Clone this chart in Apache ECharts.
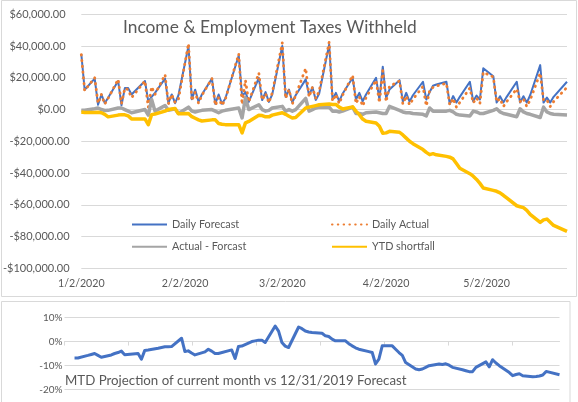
<!DOCTYPE html>
<html><head><meta charset="utf-8">
<script src="https://cdn.jsdelivr.net/npm/echarts@6/dist/echarts.min.js"></script>
<style>html,body{margin:0;padding:0;background:#fff}#c{width:578px;height:402px}</style>
</head><body><div id="c"></div>
<script>
// ---------- DATA ----------
const dates = ['2020-01-02','2020-01-03','2020-01-06','2020-01-07','2020-01-08','2020-01-09','2020-01-10','2020-01-13','2020-01-14','2020-01-15','2020-01-16','2020-01-17','2020-01-21','2020-01-22','2020-01-23','2020-01-24','2020-01-27','2020-01-28','2020-01-29','2020-01-30','2020-01-31',
'2020-02-03','2020-02-04','2020-02-05','2020-02-06','2020-02-07','2020-02-10','2020-02-11','2020-02-12','2020-02-13','2020-02-14','2020-02-18','2020-02-19','2020-02-20','2020-02-21','2020-02-24','2020-02-25','2020-02-26','2020-02-27','2020-02-28',
'2020-03-02','2020-03-03','2020-03-04','2020-03-05','2020-03-06','2020-03-09','2020-03-10','2020-03-11','2020-03-12','2020-03-13','2020-03-16','2020-03-17','2020-03-18','2020-03-19','2020-03-20','2020-03-23','2020-03-24','2020-03-25','2020-03-26','2020-03-27','2020-03-30','2020-03-31',
'2020-04-01','2020-04-02','2020-04-03','2020-04-06','2020-04-07','2020-04-08','2020-04-09','2020-04-10','2020-04-13','2020-04-14','2020-04-15','2020-04-16','2020-04-17','2020-04-20','2020-04-21','2020-04-22','2020-04-23','2020-04-24','2020-04-27','2020-04-28','2020-04-29','2020-04-30',
'2020-05-01','2020-05-04','2020-05-05','2020-05-06','2020-05-07','2020-05-08','2020-05-11','2020-05-12','2020-05-13','2020-05-14','2020-05-15','2020-05-18','2020-05-19','2020-05-20','2020-05-21','2020-05-22','2020-05-26'];

const dailyForecast = [35000,12500,19500,3000,9500,4000,7500,18000,2700,13500,13500,9500,18000,5000,8000,10500,19500,4000,9500,4000,9000,
40000,6500,12500,5000,9500,19500,3600,9500,3600,7000,34000,8500,11000,4800,20000,6000,11000,4800,9500,
40000,8000,12600,4500,9000,19000,9000,14000,6000,10000,41000,6300,10500,5200,10000,20000,6300,10500,5200,9500,20000,6300,
27000,7400,12600,18500,5000,10500,5000,9000,17500,6300,11000,15000,15800,17500,3500,8500,4400,8000,17500,5200,8800,6300,
26000,21000,4400,8400,4400,8000,17500,4400,8400,4400,9000,28000,4400,7500,4400,8000,17500];

const dailyActual = [34600,12000,20000,4000,9500,3400,7000,19000,3700,13500,12500,7500,18000,1500,14300,9500,22000,3500,9500,4500,6500,
41500,5500,11000,4000,9000,19500,2600,7500,2600,6500,35000,3200,18400,4800,23000,6000,10000,4300,10500,
42000,7000,12600,3500,9000,26000,8000,14000,7000,11500,42500,5300,9500,3700,9000,21500,3800,8000,2200,7500,18500,4300,
24500,4900,14600,18000,3500,8500,3000,6500,14500,2300,12000,14000,14800,16500,3000,7000,1400,4500,13500,4200,7300,3800,
23500,20500,4900,6900,1900,5000,13000,4900,6900,1900,6000,23000,5900,6000,1900,5000,14000];

const actualMinusForecast = [-400,-500,500,1000,0,-600,-500,1000,1000,0,-1000,-2000,0,-3500,6300,-1000,2500,-500,0,500,-2500,
1500,-1000,-1500,-1000,-500,0,-1000,-2000,-1000,-500,1000,-5300,7400,0,3000,0,-1000,-500,1000,
2000,-1000,0,-1000,0,7000,-1000,0,1000,1500,1500,-1000,-1000,-1500,-1000,1500,-2500,-2500,-3000,-2000,-1500,-2000,
-2500,-2500,2000,-500,-1500,-2000,-2000,-2500,-3000,-4000,1000,-1000,-1000,-1000,-500,-1500,-3000,-3500,-4000,-1000,-1500,-2500,
-2500,-500,500,-1500,-2500,-3000,-4500,500,-1500,-2500,-3000,-5000,1500,-1500,-2500,-3000,-3500];

const ytdShortfall = [-1500,-1800,-1800,-1700,-2000,-3000,-4600,-3500,-3200,-3300,-4000,-5900,-5900,-9500,-3200,-2800,-1000,0,300,600,-2700,
-2500,-4500,-5500,-6500,-7200,-6500,-6500,-8800,-9300,-9500,-9500,-14700,-8400,-7500,-3600,-3800,-4600,-4600,-3500,
-2000,-3000,-4200,-5300,-5000,1000,1500,2000,2500,3000,3500,3200,3200,1500,400,1700,-1000,-3200,-6000,-7400,-8500,-10500,
-15000,-14700,-13700,-14300,-16000,-18000,-20000,-21500,-25200,-27000,-28400,-27800,-28500,-29500,-30000,-31100,-34000,-37000,-40400,-42000,-44000,-46500,
-49400,-50900,-51500,-52500,-54000,-55700,-60600,-61200,-61800,-63500,-66000,-71100,-69500,-69000,-71000,-73000,-76800];

const mtdProjection = [-6.9,-6.9,-5.8,-5.4,-5.0,-5.8,-6.6,-5.6,-5.0,-4.6,-4.0,-5.5,-5.0,-7.4,-3.7,-3.5,-2.8,-2.5,-2.2,-2.2,-2.1,
1.4,-4.2,-3.9,-4.8,-5.6,-4.3,-3.2,-4.0,-5.0,-5.0,-3.5,-7.1,-2.1,-1.9,0,0.3,0.6,0.6,-0.4,
6.5,4.4,-0.4,-1.9,-2.5,6.1,5.4,4.4,4.0,3.8,3.5,2.4,2.1,1.0,0.3,0.3,-0.9,-1.8,-2.6,-3.2,-4.2,-4.6,
-9.4,-7.4,-1.8,-1.8,-3.2,-4.6,-5.8,-8.8,-11.5,-11.8,-11.5,-10.8,-10.1,-9.4,-9.6,-9.3,-9.9,-10.8,-11.8,-12.2,-12.6,-12.6,
-10.8,-8.5,-10.6,-7.6,-9.0,-10.1,-13.0,-14.3,-13.8,-13.5,-14.3,-14.7,-14.6,-14.4,-14.0,-12.5,-13.9];

const seriesNames = ['Daily Forecast','Daily Actual','Actual - Forcast','YTD shortfall'];
const xTickDates = ['2020-01-02','2020-02-02','2020-03-02','2020-04-02','2020-05-02'];
const topTitle = 'Income & Employment Taxes Withheld';
const bottomTitle = 'MTD Projection of current month vs 12/31/2019 Forecast';

// ---------- HELPERS ----------
const FONT = 'Lato, "Open Sans", sans-serif';
const ctx = document.createElement('canvas').getContext('2d');
function fit(text, target) { ctx.font = '100px ' + FONT; return 100 * target / ctx.measureText(text).width; }
const toTs = s => { const p = s.split('-').map(Number); return Date.UTC(p[0], p[1] - 1, p[2]); };
const pairs = arr => dates.map((d, i) => [toTs(d), arr[i]]);
const fmtDate = v => { const d = new Date(v); return (d.getUTCMonth() + 1) + '/' + d.getUTCDate() + '/' + d.getUTCFullYear(); };
const money = v => (v < 0 ? '-' : '') + '$' + Math.abs(v).toLocaleString('en-US', {minimumFractionDigits: 2, maximumFractionDigits: 2});

const fsTitle = fit(topTitle, 294);
const fsY = fit('-$100,000.00', 66.6);
const fsX = fit('1/2/2020', 46.7);
const fsLeg = fit('Daily Forecast', 67.3);
const fsBT = fit(bottomTitle, 341.7);
const fsPct = fit('-10%', 23.3);
const TXT = '#595959', GRID = '#D9D9D9';
const DAY = 86400000;
const bMin = toTs('2019-12-30'), bInt = 19.14 * DAY;
const bottomTicks = [0,1,2,3,4,5,6,7].map(k => bMin + k * bInt);

const colors = ['#4472C4', '#ED7D31', '#A5A5A5', '#FFC000'];
function legendAt(name, left, top) {
  return { data: [name], left: left, top: top, padding: 0, itemWidth: 35, itemHeight: 12,
    selectedMode: false, itemStyle: {opacity: 0},
    textStyle: {color: TXT, fontSize: fsLeg, fontFamily: FONT} };
}

const chart = echarts.init(document.getElementById('c'), null, {renderer: 'canvas'});
chart.setOption({
  animation: false,
  backgroundColor: '#fff',
  grid: [
    {left: 80, right: 11, top: 14.3, height: 254},
    {left: 64.5, right: 18.5, top: 317.7, height: 71.6}
  ],
  legend: [
    legendAt(seriesNames[0], 131, 219),
    legendAt(seriesNames[1], 331, 219),
    legendAt(seriesNames[2], 131, 241.3),
    legendAt(seriesNames[3], 331, 241.3)
  ],
  xAxis: [
    {type: 'value', gridIndex: 0, min: toTs(dates[0]), max: toTs(dates[dates.length - 1]),
      axisLine: {show: false}, axisTick: {show: false}, splitLine: {show: false},
      axisLabel: {customValues: xTickDates.map(toTs), formatter: fmtDate, color: TXT, fontSize: fsX, fontFamily: FONT, margin: 10}},
    {type: 'value', gridIndex: 1, min: bMin, max: toTs(dates[dates.length - 1]), offset: 11,
      axisLine: {show: true, lineStyle: {color: GRID}},
      axisTick: {show: true, length: 4, customValues: bottomTicks, lineStyle: {color: GRID}},
      axisLabel: {show: false}, splitLine: {show: false}}
  ],
  yAxis: [
    {type: 'value', gridIndex: 0, min: -100000, max: 60000, interval: 20000,
      axisLine: {show: false}, axisTick: {show: false},
      splitLine: {lineStyle: {color: GRID, width: 1}},
      axisLabel: {color: TXT, fontSize: fsY, fontFamily: FONT, margin: 11.7,
        formatter: v => v < 0 ? money(v) : money(v) + '{p|\u00a0}',
        rich: {p: {width: 4, fontSize: fsY}}}},
    {type: 'value', gridIndex: 1, min: -20, max: 10, interval: 10,
      axisLine: {show: false}, axisTick: {show: false},
      splitLine: {lineStyle: {color: GRID, width: 1}},
      axisLabel: {color: TXT, fontSize: fsPct, fontFamily: FONT, margin: 2, formatter: v => v + '%'}}
  ],
  series: [
    {name: seriesNames[0], type: 'line', xAxisIndex: 0, yAxisIndex: 0, symbol: 'none', data: pairs(dailyForecast),
      lineStyle: {color: colors[0], width: 2, join: 'round'}, itemStyle: {color: colors[0]}, z: 2},
    {name: seriesNames[1], type: 'line', xAxisIndex: 0, yAxisIndex: 0, symbol: 'none', data: pairs(dailyActual),
      lineStyle: {color: colors[1], width: 2.8, type: [0.5, 5.3], cap: 'round', join: 'round'}, itemStyle: {color: colors[1]}, z: 3},
    {name: seriesNames[2], type: 'line', xAxisIndex: 0, yAxisIndex: 0, symbol: 'none', data: pairs(actualMinusForecast),
      lineStyle: {color: colors[2], width: 3.5, join: 'round'}, itemStyle: {color: colors[2]}, z: 4},
    {name: seriesNames[3], type: 'line', xAxisIndex: 0, yAxisIndex: 0, symbol: 'none', data: pairs(ytdShortfall),
      lineStyle: {color: colors[3], width: 3.5, join: 'round'}, itemStyle: {color: colors[3]}, z: 5},
    {name: 'MTD', type: 'line', xAxisIndex: 1, yAxisIndex: 1, symbol: 'none', data: pairs(mtdProjection),
      lineStyle: {color: '#4472C4', width: 3, join: 'round'}, itemStyle: {color: '#4472C4'}, z: 2}
  ],
  graphic: [
    {type: 'rect', shape: {x: 1.5, y: 0.5, width: 575, height: 296}, style: {fill: 'none', stroke: GRID, lineWidth: 1}, silent: true, z: 0},
    {type: 'rect', shape: {x: 1.5, y: 301.5, width: 568.5, height: 110}, style: {fill: 'none', stroke: GRID, lineWidth: 1}, silent: true, z: 0},
    {type: 'text', x: 123, y: 27, style: {text: topTitle, fill: TXT, font: fsTitle.toFixed(2) + 'px ' + FONT, textVerticalAlign: 'middle'}, z: 10},
    {type: 'text', x: 65, y: 380.5, style: {text: bottomTitle, fill: TXT, font: fsBT.toFixed(2) + 'px ' + FONT, textVerticalAlign: 'middle'}, z: 10}
  ]
});
</script>
</body></html>
